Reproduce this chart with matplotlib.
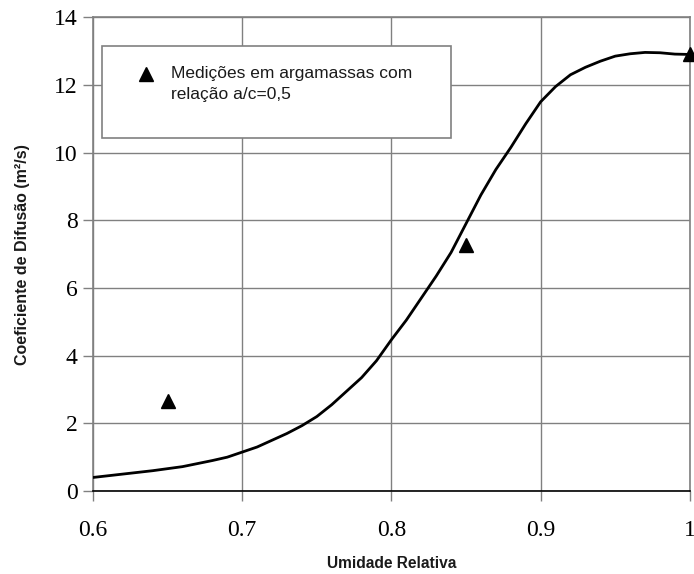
import numpy as np
import matplotlib
matplotlib.use('Agg')
import matplotlib.pyplot as plt
from matplotlib.patches import Rectangle

# ==================
# Dados do gráfico
# ==================
umidade_curva = [0.60, 0.62, 0.64, 0.66, 0.68, 0.69, 0.70, 0.71, 0.72, 0.73, 0.74,
                 0.75, 0.76, 0.77, 0.78, 0.79, 0.80, 0.81, 0.82, 0.83, 0.84, 0.85,
                 0.86, 0.87, 0.88, 0.89, 0.90, 0.91, 0.92, 0.93, 0.94, 0.95, 0.96,
                 0.97, 0.98, 0.99, 1.00]
coef_curva = [0.40, 0.50, 0.60, 0.72, 0.90, 1.00, 1.15, 1.30, 1.50, 1.70, 1.93,
              2.20, 2.55, 2.95, 3.35, 3.85, 4.47, 5.05, 5.70, 6.35, 7.05, 7.90,
              8.75, 9.50, 10.15, 10.85, 11.50, 11.95, 12.30, 12.52, 12.70, 12.85, 12.92,
              12.96, 12.95, 12.91, 12.90]

umidade_medida = [0.65, 0.85, 1.00]
coef_medido = [2.65, 7.28, 12.90]

xticks = [0.6, 0.7, 0.8, 0.9, 1.0]
xticklabels = ['0.6', '0.7', '0.8', '0.9', '1']
yticks = [0, 2, 4, 6, 8, 10, 12, 14]

legenda = 'Medições em argamassas com\nrelação a/c=0,5'

# ==================
# Gráfico
# ==================
fig = plt.figure(figsize=(6.94, 5.74), dpi=100)
ax = fig.add_axes([0.134, 0.1446, 0.860, 0.8254])

ax.plot(umidade_curva, coef_curva, color='black', lw=2.0, zorder=3)
ax.plot(umidade_medida, coef_medido, linestyle='none', marker='^', color='black',
        markersize=10, clip_on=False, zorder=4)

ax.set_xlim(0.6, 1.0)
ax.set_ylim(0, 14)
ax.set_xticks(xticks)
ax.set_xticklabels(xticklabels)
ax.set_yticks(yticks)

ax.grid(True, color='#808080', lw=1.0)
ax.set_axisbelow(True)

for lado in ['left', 'top', 'right']:
    ax.spines[lado].set_color('#808080')
    ax.spines[lado].set_linewidth(1.2)
ax.spines['bottom'].set_color('black')
ax.spines['bottom'].set_linewidth(1.2)

for lab in ax.get_xticklabels() + ax.get_yticklabels():
    lab.set_fontfamily('Liberation Serif')
    lab.set_fontsize(17)
ax.tick_params(axis='both', direction='out', length=7, color='#808080', width=1.0)
ax.tick_params(axis='x', pad=14)
ax.tick_params(axis='y', pad=4)

ax.set_xlabel('Umidade Relativa', fontfamily='Liberation Sans', fontweight='bold',
              fontsize=11.2, color='#1a1a1a', labelpad=11)
ax.set_ylabel('Coeficiente de Difusão (m²/s)', fontfamily='Liberation Sans',
              fontweight='bold', fontsize=11.5, color='#1a1a1a', labelpad=17)

# caixa da legenda
caixa = Rectangle((0.606, 10.44), 0.234, 2.70, facecolor='white',
                  edgecolor='#808080', lw=1.2, zorder=5)
ax.add_patch(caixa)
ax.plot([0.6355], [12.33], linestyle='none', marker='^', color='black',
        markersize=10, zorder=6)
ax.text(0.6525, 12.33, legenda.split('\n')[0], fontfamily='Liberation Sans',
        fontsize=12.5, color='#1a1a1a', va='center', ha='left', zorder=6)
ax.text(0.6525, 11.72, legenda.split('\n')[1], fontfamily='Liberation Sans',
        fontsize=12.5, color='#1a1a1a', va='center', ha='left', zorder=6)

fig.savefig('out.png', dpi=100)
